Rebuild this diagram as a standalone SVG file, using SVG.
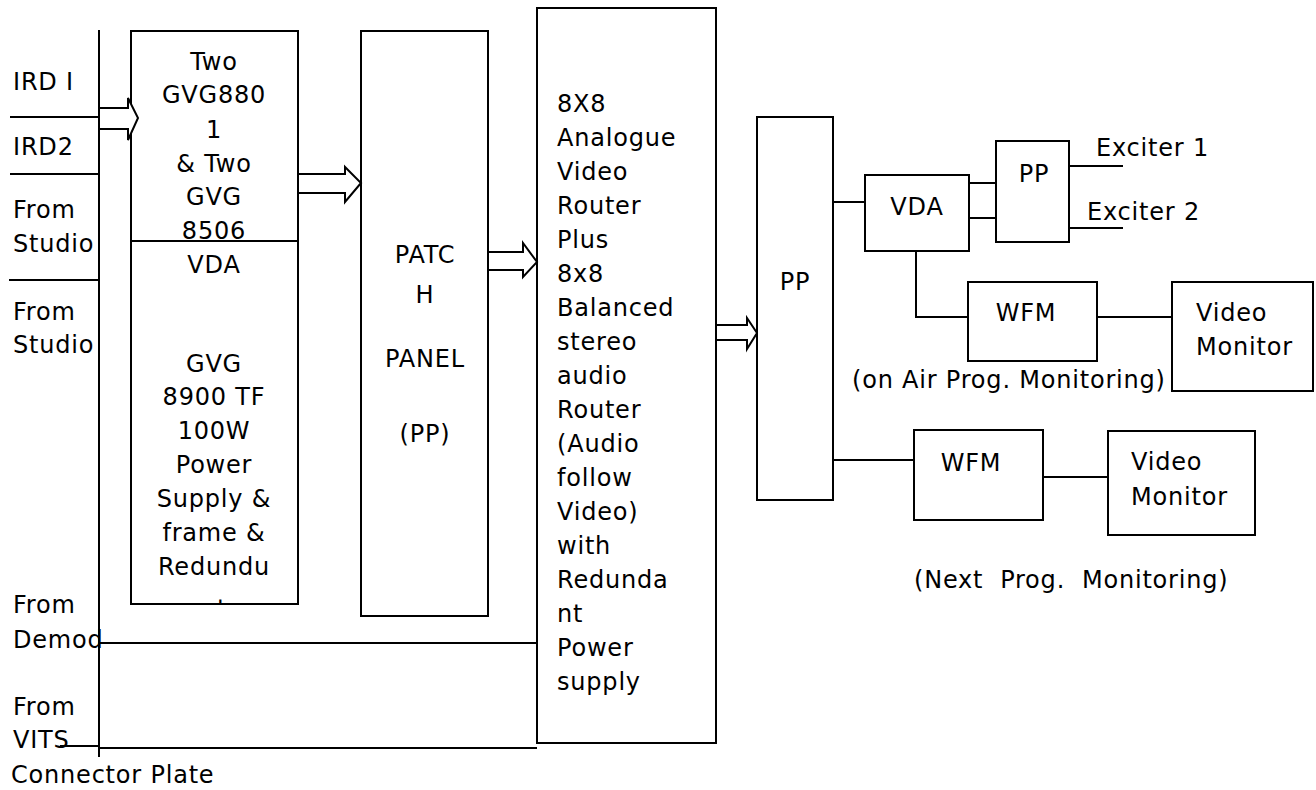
<svg xmlns="http://www.w3.org/2000/svg" width="1316" height="790" viewBox="0 0 1316 790">
<style>
  .box{fill:#fff;stroke:#000;stroke-width:2}
  .ln{fill:none;stroke:#000;stroke-width:2}
  .arr{fill:#fff;stroke:#000;stroke-width:2;stroke-linejoin:miter}
  text{font-family:"DejaVu Sans","Liberation Sans",sans-serif;font-size:24px;fill:#000;letter-spacing:0.8px}
  .c{text-anchor:middle}
</style>
<defs>
  <clipPath id="gvgclip"><rect x="131" y="31" width="167" height="572"/></clipPath>
</defs>
<rect width="1316" height="790" fill="#fff"/>

<g id="connector-plate">
  <line class="ln" x1="99" y1="30" x2="99" y2="757"/>
  <line class="ln" x1="10" y1="117" x2="99" y2="117"/>
  <line class="ln" x1="10" y1="174" x2="99" y2="174"/>
  <line class="ln" x1="9" y1="280" x2="99" y2="280"/>
  <text x="13" y="90">IRD I</text>
  <text x="13" y="155">IRD2</text>
  <text x="13" y="218">From</text>
  <text x="13" y="252">Studio</text>
  <text x="13" y="320">From</text>
  <text x="13" y="353">Studio</text>
  <text x="13" y="613">From</text>
  <text x="13" y="648">Demod</text>
  <text x="13" y="715">From</text>
  <text x="13" y="748">VITS</text>
  <text x="11" y="783">Connector Plate</text>
</g>

<g id="gvg">
  <rect class="box" x="131" y="31" width="167" height="573"/>
  <line class="ln" x1="131" y1="241" x2="298" y2="241"/>
  <text class="c" x="214" y="70">Two</text>
  <text class="c" x="214" y="103">GVG880</text>
  <text class="c" x="214" y="138">1</text>
  <text class="c" x="214" y="172">&amp; Two</text>
  <text class="c" x="214" y="205">GVG</text>
  <text class="c" x="214" y="239">8506</text>
  <text class="c" x="214" y="273">VDA</text>
  <text class="c" x="214" y="372">GVG</text>
  <text class="c" x="214" y="405">8900 TF</text>
  <text class="c" x="214" y="439">100W</text>
  <text class="c" x="214" y="473">Power</text>
  <text class="c" x="214" y="507">Supply &amp;</text>
  <text class="c" x="214" y="541">frame &amp;</text>
  <text class="c" x="214" y="575">Redundu</text>
  <text class="c" x="214" y="617" clip-path="url(#gvgclip)">nt</text>
</g>

<g id="patch-panel">
  <rect class="box" x="361" y="31" width="127" height="585"/>
  <text class="c" x="425" y="263">PATC</text>
  <text class="c" x="425" y="303">H</text>
  <text class="c" x="425" y="367">PANEL</text>
  <text class="c" x="425" y="442">(PP)</text>
</g>

<g id="router">
  <rect class="box" x="537" y="8" width="179" height="735"/>
  <text x="557" y="112">8X8</text>
  <text x="557" y="146">Analogue</text>
  <text x="557" y="180">Video</text>
  <text x="557" y="214">Router</text>
  <text x="557" y="248">Plus</text>
  <text x="557" y="282">8x8</text>
  <text x="557" y="316">Balanced</text>
  <text x="557" y="350">stereo</text>
  <text x="557" y="384">audio</text>
  <text x="557" y="418">Router</text>
  <text x="557" y="452">(Audio</text>
  <text x="557" y="486">follow</text>
  <text x="557" y="520">Video)</text>
  <text x="557" y="554">with</text>
  <text x="557" y="588">Redunda</text>
  <text x="557" y="622">nt</text>
  <text x="557" y="656">Power</text>
  <text x="557" y="690">supply</text>
</g>

<g id="pp-main">
  <rect class="box" x="757" y="117" width="76" height="383"/>
  <text class="c" x="795" y="290">PP</text>
</g>

<g id="vda">
  <rect class="box" x="865" y="175" width="104" height="76"/>
  <text class="c" x="917" y="215">VDA</text>
</g>

<g id="pp-small">
  <rect class="box" x="996" y="141" width="73" height="101"/>
  <text class="c" x="1034" y="182">PP</text>
</g>

<g id="exciter-labels">
  <text x="1096" y="156">Exciter 1</text>
  <text x="1087" y="220">Exciter 2</text>
</g>

<g id="wfm-air">
  <rect class="box" x="968" y="282" width="129" height="79"/>
  <text class="c" x="1026" y="321">WFM</text>
</g>

<g id="monitor-air">
  <rect class="box" x="1172" y="282" width="141" height="109"/>
  <text x="1196" y="321">Video</text>
  <text x="1196" y="355">Monitor</text>
</g>

<g id="label-air">
  <text x="852" y="388">(on Air Prog. Monitoring)</text>
</g>

<g id="wfm-next">
  <rect class="box" x="914" y="430" width="129" height="90"/>
  <text class="c" x="971" y="471">WFM</text>
</g>

<g id="monitor-next">
  <rect class="box" x="1108" y="431" width="147" height="104"/>
  <text x="1131" y="470">Video</text>
  <text x="1131" y="505">Monitor</text>
</g>

<g id="label-next">
  <text x="914" y="588" xml:space="preserve">(Next  Prog.  Monitoring)</text>
</g>

<g id="connectors">
  <polygon class="arr" points="99,108 128,108 128,98 138,118 128,140 128,129 99,129"/>
  <polygon class="arr" points="298,174 345,174 345,167 361,183 345,202 345,193 298,193"/>
  <polygon class="arr" points="488,252 523,252 523,243 537,262 523,277 523,270 488,270"/>
  <polygon class="arr" points="716,325 747,325 747,318 757,333 747,349 747,340 716,340"/>
  <line class="ln" x1="99" y1="643" x2="537" y2="643"/>
  <line class="ln" x1="60" y1="746" x2="99" y2="746"/>
  <line class="ln" x1="99" y1="748" x2="537" y2="748"/>
  <line class="ln" x1="833" y1="202" x2="865" y2="202"/>
  <line class="ln" x1="969" y1="183" x2="996" y2="183"/>
  <line class="ln" x1="969" y1="218" x2="996" y2="218"/>
  <line class="ln" x1="1069" y1="166" x2="1123" y2="166"/>
  <line class="ln" x1="1069" y1="228" x2="1123" y2="228"/>
  <polyline class="ln" points="916,251 916,317 968,317"/>
  <line class="ln" x1="1097" y1="317" x2="1172" y2="317"/>
  <line class="ln" x1="833" y1="460" x2="914" y2="460"/>
  <line class="ln" x1="1043" y1="477" x2="1108" y2="477"/>
</g>
</svg>
